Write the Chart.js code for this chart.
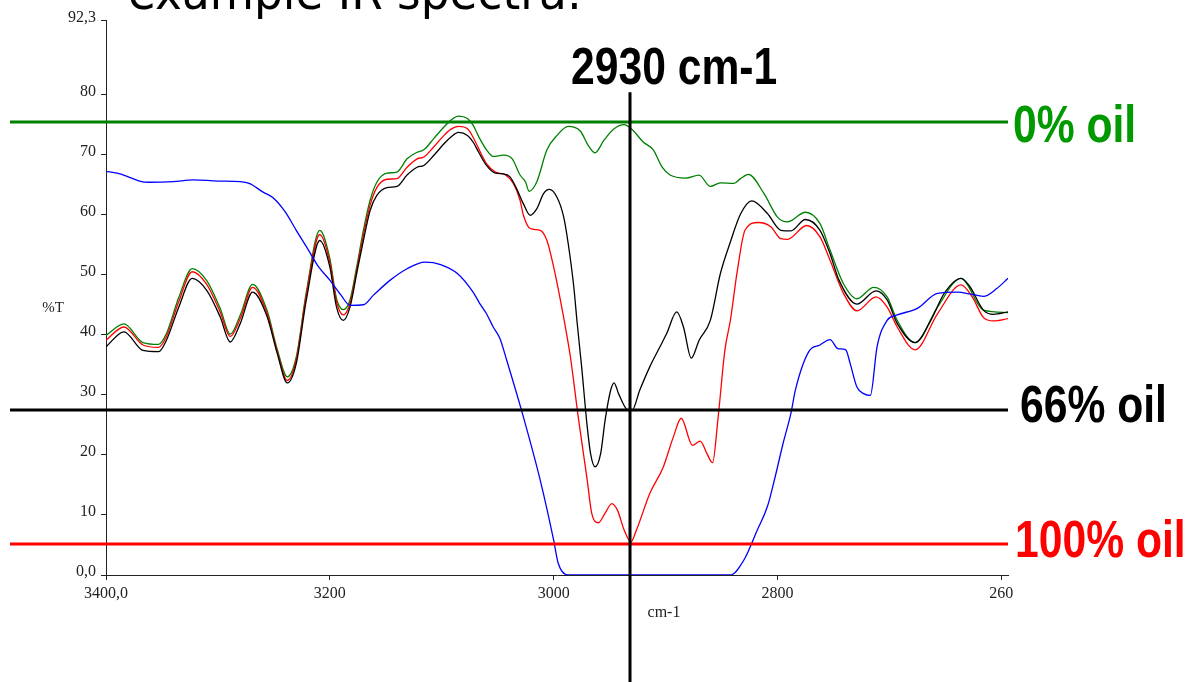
<!DOCTYPE html>
<html>
<head>
<meta charset="utf-8">
<script src="https://cdn.jsdelivr.net/npm/chart.js@4.4.0/dist/chart.umd.min.js"></script>
<style>
  html, body { margin: 0; padding: 0; background: #fff; }
  canvas { display: block; }
</style>
</head>
<body>
<canvas id="ir" width="1189" height="682"></canvas>
<script>
// wavenumbers (cm-1) and %T
var greenWn = [3400,3384,3367,3353,3346,3335,3323,3310,3298,3289,3280,3269,3256,3247,3238,3230,3221,3209,3200,3194,3188,3182,3176,3170,3164,3158,3149,3140,3131,3122,3116,3107,3098,3092,3085,3077,3072,3067,3060,3054,3045,3037,3030,3025,3022,3015,3006,2997,2987,2976,2969,2963,2955,2946,2937,2929,2920,2911,2903,2896,2882,2870,2860,2851,2839,2833,2826,2812,2800,2791,2775,2762,2753,2741,2729,2714,2702,2693,2677,2657,2636,2616,2594];
var greenT = [39.9,41.8,38.7,38.4,40.2,46.2,51.0,49.0,44.4,40.1,43.3,48.4,44.0,37.6,33.0,36.3,47.1,57.4,52.7,46.0,44.2,45.8,51.3,57.4,62.4,65.4,66.9,67.1,69.3,70.4,70.8,72.7,74.6,75.7,76.4,76.0,74.9,73.0,70.8,69.7,69.9,69.3,66.6,65.4,63.9,65.5,70.8,73.2,74.7,73.9,71.5,70.3,72.4,74.3,75.0,74.0,72.1,70.8,67.9,66.6,66.1,66.6,64.7,65.3,65.2,66.0,66.7,63.5,59.6,58.8,60.4,58.5,54.1,48.5,46.0,47.9,46.3,42.4,38.7,44.6,49.4,44.1,43.7];

var blackWn = [3400,3384,3367,3353,3346,3335,3323,3310,3298,3289,3280,3269,3256,3247,3238,3230,3221,3209,3200,3194,3188,3182,3176,3170,3164,3158,3149,3140,3131,3122,3116,3107,3098,3092,3085,3077,3072,3067,3060,3052,3045,3039,3033,3027,3021,3015,3009,3004,2997,2991,2987,2982,2979,2975,2970,2967,2963,2958,2954,2949,2946,2942,2934,2930,2923,2914,2905,2899,2890,2884,2877,2870,2860,2851,2842,2833,2823,2809,2797,2788,2775,2762,2753,2745,2729,2712,2702,2693,2677,2663,2651,2636,2628,2616,2607,2594];
var blackT = [38.0,40.5,37.4,37.2,39.1,44.6,49.4,47.4,43.0,38.8,41.9,47.1,43.0,36.9,32.0,35.2,45.8,55.7,51.3,44.6,42.4,44.6,50.2,55.7,60.7,63.2,64.5,64.7,66.6,67.9,68.2,69.9,71.8,72.9,73.7,73.2,72.1,70.4,68.2,66.9,66.8,66.3,64.3,61.8,59.9,61.0,63.5,64.2,62.9,59.6,55.2,48.0,42.0,34.7,24.7,20.2,18.0,20.2,25.8,30.8,32.0,30.2,27.5,27.4,30.8,34.7,38.0,40.2,43.8,41.3,36.1,39.1,42.4,50.2,55.5,60.1,62.3,60.2,57.4,57.3,59.2,57.4,53.5,49.1,45.1,47.3,45.8,41.9,38.7,42.4,46.9,49.4,48.0,44.1,43.4,43.8];

var redWn = [3400,3384,3367,3353,3346,3335,3323,3310,3298,3289,3280,3269,3256,3247,3238,3230,3221,3209,3200,3194,3188,3182,3176,3170,3164,3158,3149,3140,3131,3122,3116,3107,3098,3092,3085,3077,3072,3067,3060,3052,3043,3036,3030,3027,3021,3012,3006,3000,2994,2988,2985,2978,2970,2966,2960,2954,2948,2943,2937,2931,2926,2914,2902,2893,2886,2876,2869,2863,2858,2853,2847,2842,2836,2829,2817,2806,2797,2791,2774,2762,2753,2741,2729,2712,2702,2693,2677,2657,2636,2626,2616,2607,2594];
var redT = [39.1,41.3,38.3,37.9,39.7,45.5,50.5,48.4,43.8,39.7,42.7,47.9,43.5,37.2,32.4,35.8,46.6,56.7,52.1,45.5,43.3,45.2,50.7,56.6,61.6,64.5,65.9,66.0,67.9,69.3,69.6,71.3,73.2,74.2,74.7,74.3,72.9,71.0,68.5,67.1,66.6,65.2,62.4,59.9,57.7,57.4,55.7,51.3,45.8,39.7,36.3,26.3,15.8,10.3,8.7,10.3,11.9,10.8,7.5,5.5,7.5,13.6,18.0,23.0,26.1,21.6,22.3,20.2,18.7,26.3,37.4,42.5,50.5,57.4,58.7,58.0,56.0,55.9,58.2,56.3,52.4,46.9,44.0,46.3,44.6,41.3,37.5,43.5,48.3,46.3,42.9,42.3,42.7];

var blueWn = [3400,3390,3380,3370,3362,3340,3322,3300,3280,3272,3260,3250,3240,3230,3220,3210,3200,3190,3182,3170,3161,3146,3131,3115,3101,3086,3072,3066,3060,3054,3048,3042,3027,3012,3000,2996,2987,2842,2830,2818,2809,2802,2795,2788,2784,2772,2762,2753,2746,2739,2735,2729,2723,2717,2711,2702,2693,2675,2657,2639,2628,2616,2604,2594];
var blueT = [67.2,66.9,66.3,65.6,65.4,65.5,65.8,65.6,65.5,65.2,63.8,62.7,60.5,57.4,54.4,51.3,49.1,46.6,44.9,45.0,46.6,49.1,51.0,52.1,51.7,50.2,47.1,45.2,43.5,41.3,39.4,35.8,26.3,15.8,5.8,2.0,0,0,2.5,7.5,11.4,16.4,21.9,26.9,30.8,37.2,38.3,39.2,37.7,37.5,35.2,31.3,30.2,29.9,38.0,42.4,43.3,44.4,46.9,47.1,46.8,46.4,47.7,49.4];

// axis ticks
var xTicks = [3400, 3200, 3000, 2800, 2600];
var xTickLabels = ['3400,0', '3200', '3000', '2800', '260'];
var yTicks = [0, 10, 20, 30, 40, 50, 60, 70, 80, 92.3];
var yTickLabels = ['0,0', '10', '20', '30', '40', '50', '60', '70', '80', '92,3'];

// reference levels and the marked band (line drawn where the picture puts it)
var refLevels = [75.5, 27.4, 5.2];
var refNames = ['0% oil', '66% oil', '100% oil'];
var markerWn = 2932;
var markerLabel = '2930 cm-1';
var titleText = 'example IR spectra:';

function pts(wn, t) {
  var out = [];
  for (var i = 0; i < wn.length; i++) out.push({ x: wn[i], y: t[i] });
  return out;
}

function series(label, wn, t, color) {
  return {
    label: label,
    data: pts(wn, t),
    borderColor: color,
    borderWidth: 1.3,
    pointRadius: 0,
    fill: false,
    cubicInterpolationMode: 'monotone'
  };
}

var serif = "'Liberation Serif', 'Times New Roman', serif";

var overlay = {
  id: 'overlay',
  afterDatasetsDraw: function (chart) {
    var ctx = chart.ctx;
    var xs = chart.scales.x, ys = chart.scales.y;
    var area = chart.chartArea;
    ctx.save();

    // y tick labels (baseline sits on the tick)
    ctx.font = '16px ' + serif;
    ctx.fillStyle = '#222';
    ctx.textAlign = 'right';
    ctx.textBaseline = 'alphabetic';
    for (var i = 0; i < yTicks.length; i++) {
      ctx.fillText(yTickLabels[i], area.left - 10, ys.getPixelForValue(yTicks[i]) + 1);
    }
    ctx.textAlign = 'center';
    ctx.font = '15px ' + serif;
    ctx.fillText('%T', 53, 312);
    ctx.font = '16px ' + serif;
    ctx.fillText('cm-1', 664, 617);

    // reference lines
    var lineCols = ['#008000', '#000000', '#ff0000'];
    var textCols = ['#009900', '#000000', '#ff0000'];
    var textX = [1013, 1020, 1015];
    var textDy = [20, 12, 13];
    for (var j = 0; j < refLevels.length; j++) {
      var y = Math.round(ys.getPixelForValue(refLevels[j]));
      ctx.strokeStyle = lineCols[j];
      ctx.lineWidth = 3;
      ctx.beginPath();
      ctx.moveTo(10, y);
      ctx.lineTo(area.right, y);
      ctx.stroke();
      condensed(ctx, refNames[j], textX[j], y + textDy[j], textCols[j]);
    }

    // vertical marker
    var mx = Math.round(xs.getPixelForValue(markerWn));
    ctx.strokeStyle = '#000';
    ctx.lineWidth = 3;
    ctx.beginPath();
    ctx.moveTo(mx, ys.getPixelForValue(80.4));
    ctx.lineTo(mx, chart.height);
    ctx.stroke();
    condensed(ctx, markerLabel, mx - 59, 84, '#000');

    // title, mostly cut off by the top edge
    ctx.fillStyle = '#000';
    ctx.textAlign = 'left';
    ctx.font = "48px 'DejaVu Sans', sans-serif";
    ctx.fillText(titleText, 128, 9, 454);

    ctx.restore();
  }
};

function condensed(ctx, text, x, y, color) {
  ctx.save();
  ctx.translate(x, y);
  ctx.scale(0.82, 1);
  ctx.font = "bold 52px 'Liberation Sans', Arial, sans-serif";
  ctx.fillStyle = color;
  ctx.textAlign = 'left';
  ctx.textBaseline = 'alphabetic';
  ctx.fillText(text, 0, 0);
  ctx.restore();
}

new Chart(document.getElementById('ir').getContext('2d'), {
  type: 'line',
  data: {
    datasets: [
      series('blue', blueWn, blueT, '#0000ff'),
      series('black', blackWn, blackT, '#000000'),
      series('red', redWn, redT, '#ff0000'),
      series('green', greenWn, greenT, '#008000')
    ]
  },
  options: {
    responsive: false,
    animation: false,
    devicePixelRatio: 1,
    layout: { padding: { top: 20.7, right: 181, left: 0, bottom: 0 } },
    plugins: { legend: { display: false }, tooltip: { enabled: false } },
    scales: {
      x: {
        type: 'linear',
        reverse: true,
        min: 2594,
        max: 3400,
        afterBuildTicks: function (s) { s.ticks = xTicks.map(function (v) { return { value: v }; }); },
        afterFit: function (s) { s.height = 107; },
        ticks: {
          autoSkip: false,
          maxRotation: 0,
          padding: 4,
          color: '#222',
          font: { family: serif, size: 16 },
          callback: function (v) { return xTickLabels[xTicks.indexOf(v)]; }
        },
        grid: { drawOnChartArea: false, tickLength: 5, color: '#222' },
        border: { color: '#222', width: 1 }
      },
      y: {
        min: 0,
        max: 92.3,
        afterBuildTicks: function (s) { s.ticks = yTicks.map(function (v) { return { value: v }; }); },
        afterFit: function (s) { s.width = 106; },
        ticks: { display: false },
        grid: { drawOnChartArea: false, tickLength: 5, color: '#222' },
        border: { color: '#222', width: 1 }
      }
    }
  },
  plugins: [overlay]
});
</script>
</body>
</html>
